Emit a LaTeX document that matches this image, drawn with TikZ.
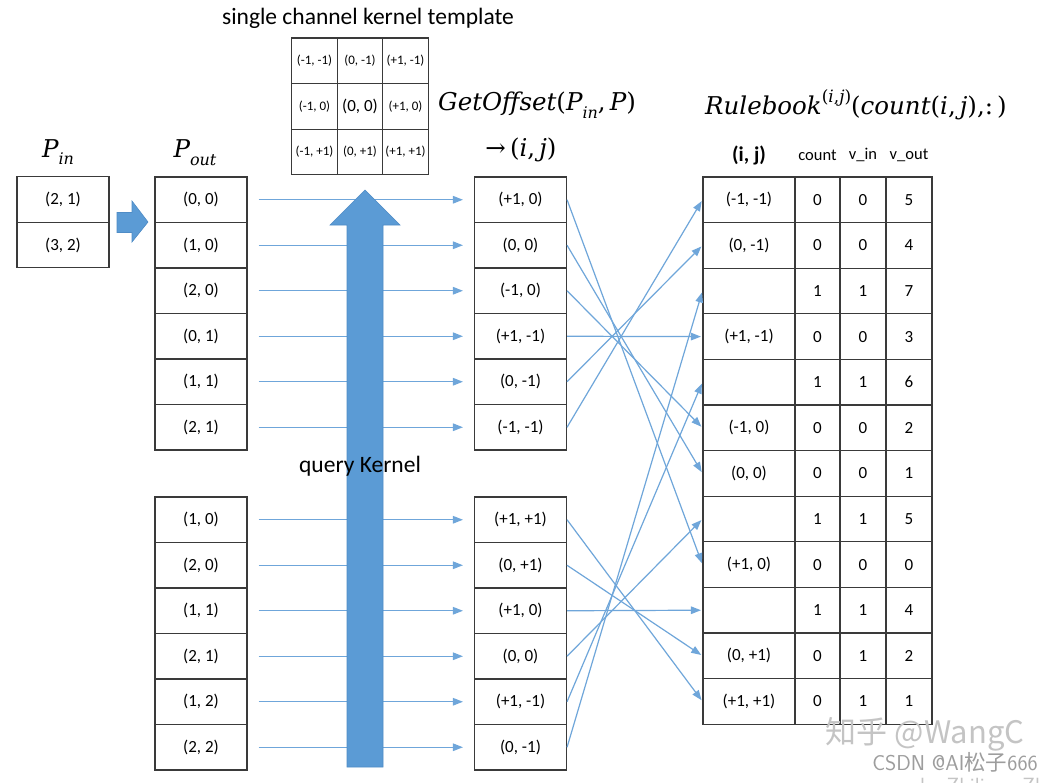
\documentclass[tikz,border=0pt]{standalone}
\usepackage{fontspec}
\setmainfont{Carlito}
\newfontfamily\cjk{Noto Sans CJK SC}
\newfontfamily\mf{DejaVu Serif}
\newcommand\mi[1]{{\mf\itshape #1}}
\newcommand\mr[1]{{\mf #1}}
\newcommand\msb[1]{\raisebox{-0.32em}{\fontsize{16}{17}\selectfont\mf\itshape #1}}
\newcommand\msp[1]{\raisebox{0.5em}{\fontsize{17}{18}\selectfont\mf #1}}
\usetikzlibrary{arrows.meta}
\definecolor{lineblue}{HTML}{6FA6DA}
\definecolor{arrowblue}{HTML}{5B9BD5}
\definecolor{arrowedge}{HTML}{4F8CC6}
\definecolor{boxgray}{HTML}{3A3A3A}
\definecolor{wmgray}{HTML}{C4C4C4}
\begin{document}
\begin{tikzpicture}[x=1pt,y=-1pt,
  cell/.style={draw=boxgray,line width=1.1pt,minimum width=#1,minimum height=45.5pt,inner sep=0pt,font=\fontsize{17}{19}\selectfont},
  cell/.default=92pt,
  kcell/.style={draw=boxgray,line width=1.1pt,minimum width=45.3pt,minimum height=45.6pt,inner sep=0pt,font=\fontsize{13}{15}\selectfont},
  rcell/.style={draw=boxgray,line width=1.1pt,minimum width=#1,minimum height=45.6pt,inner sep=0pt,font=\fontsize{17}{19}\selectfont},
  conn/.style={draw=lineblue,line width=1.2pt,-{Triangle[length=10pt,width=7.5pt]}},
  mathlbl/.style={font=\fontsize{24.5}{26}\selectfont,inner sep=0pt},
  hdr/.style={font=\fontsize{16.5}{18}\selectfont,inner sep=0pt},
  bigarrow/.style={fill=arrowblue,draw=arrowedge,line width=0.6pt}
]
\clip (0,0) rectangle (1052,782);
\fill[white] (0,0) rectangle (1052,782);

% title
\node[font=\fontsize{23.5}{25}\selectfont,inner sep=0pt] (title) at (368,18) {single channel kernel template};

% kernel template
\foreach \a/\b/\c [count=\i] in {{(-1, -1)}/{(0, -1)}/{(+1, -1)},{(-1, 0)}/{\fontsize{17}{18}\selectfont(0, 0)}/{(+1, 0)},{(-1, +1)}/{(0, +1)}/{(+1, +1)}}{
  \node[kcell] (k\i a) at (314.5,{38+45.6*(\i-0.5)}) {\a};
  \node[kcell] (k\i b) at (360,{38+45.6*(\i-0.5)}) {\b};
  \node[kcell] (k\i c) at (405.5,{38+45.6*(\i-0.5)}) {\c};
}

% P_in
\node[mathlbl] (pinlbl) at (58,152) {\mi{P}\msb{in}};
\node[cell] (pin1) at (63,199.5) {(2, 1)};
\node[cell] (pin2) at (63,245) {(3, 2)};

% blue right arrow
\draw[bigarrow] (117,212.5) -- (132,212.5) -- (132,201) -- (148,222) -- (132,242) -- (132,232.5) -- (117,232.5) -- cycle;

% P_out
\node[mathlbl] (poutlbl) at (195,153) {\mi{P}\msb{out}};
\foreach \t [count=\i] in {{(0, 0)},{(1, 0)},{(2, 0)},{(0, 1)},{(1, 1)},{(2, 1)}}{
  \node[cell] (pa\i) at (201,{177+45.5*(\i-0.5)}) {\t};
}
\foreach \t [count=\i] in {{(1, 0)},{(2, 0)},{(1, 1)},{(2, 1)},{(1, 2)},{(2, 2)}}{
  \node[cell] (pb\i) at (201,{497+45.5*(\i-0.5)}) {\t};
}

% offsets
\node[mathlbl,anchor=west] (golbl) at (438,105) {\mi{GetOffset}\mr{(}\mi{P}\msb{in}\mr{,}\,\mi{P}\mr{)}};
\node[mathlbl] (ijlbl) at (521,150) {\mr{→\,(}\mi{i}\mr{,}\,\mi{j}\mr{)}};
\foreach \t [count=\i] in {{(+1, 0)},{(0, 0)},{(-1, 0)},{(+1, -1)},{(0, -1)},{(-1, -1)}}{
  \node[cell] (oa\i) at (520.5,{177+45.5*(\i-0.5)}) {\t};
}
\foreach \t [count=\i] in {{(+1, +1)},{(0, +1)},{(+1, 0)},{(0, 0)},{(+1, -1)},{(0, -1)}}{
  \node[cell] (ob\i) at (520.5,{497+45.5*(\i-0.5)}) {\t};
}

% horizontal arrows
\foreach \i in {1,...,6}{
  \draw[conn,shorten <=11pt,shorten >=11pt] (pa\i.east) -- (oa\i.west);
  \draw[conn,shorten <=11pt,shorten >=11pt] (pb\i.east) -- (ob\i.west);
}

% big up arrow
\draw[bigarrow] (347,767) -- (347,225) -- (330,225) -- (365,190) -- (400,225) -- (383,225) -- (383,767) -- cycle;
\node[font=\fontsize{23.5}{25}\selectfont,inner sep=0pt] (qk) at (360,466) {query Kernel};

% rulebook
\node[mathlbl,anchor=west] (rblbl) at (705,105) {\mi{Rulebook}\msp{(\textit{i},\textit{j})}\mr{(}\mi{count}\mr{(}\mi{i}\mr{,}\,\mi{j}\mr{),:\,)}};
\node[font=\fontsize{21}{23}\selectfont\bfseries,inner sep=0pt] (hij) at (749,155) {(i, j)};
\node[hdr] (hcount) at (817.5,155) {count};
\node[hdr] (hvin) at (863,155) {v\_in};
\node[hdr] (hvout) at (909,155) {v\_out};
\foreach \a/\b/\c/\d [count=\i] in {{(-1, -1)}/0/0/5,{(0, -1)}/0/0/4,{}/1/1/7,{(+1, -1)}/0/0/3,{}/1/1/6,{(-1, 0)}/0/0/2,{(0, 0)}/0/0/1,{}/1/1/5,{(+1, 0)}/0/0/0,{}/1/1/4,{(0, +1)}/0/1/2,{(+1, +1)}/0/1/1}{
  \node[rcell=92pt] (r\i) at (749,{177+45.6*(\i-0.5)}) {\a};
  \node[rcell=45pt] (rc\i) at (817.5,{177+45.6*(\i-0.5)}) {\b};
  \node[rcell=46pt] (ri\i) at (863,{177+45.6*(\i-0.5)}) {\c};
  \node[rcell=46pt] (ro\i) at (909,{177+45.6*(\i-0.5)}) {\d};
}

% cross connectors
\foreach \s/\t in {1/9,2/7,3/6,4/4,5/2,6/1}{
  \draw[conn,shorten >=1.5pt] (oa\s.east) -- (r\t.west);
}
\foreach \s/\t in {1/12,2/11,3/10,4/8,5/5,6/3}{
  \draw[conn,shorten >=1.5pt] (ob\s.east) -- (r\t.west);
}

% watermarks
\node[text=wmgray,font=\cjk\fontsize{31}{33}\selectfont,inner sep=0pt] (wm1) at (925,734) {知乎 @WangC};
\node[text=wmgray!80!black,font=\fontsize{21.5}{23}\selectfont\sffamily,inner sep=0pt] (wm2) at (955,762) {CSDN @AI{\cjk 松子}666};
\node[text=wmgray,font=\fontsize{22}{24}\selectfont\sffamily,inner sep=0pt,anchor=west] (wm3) at (920,788) {by Zhiliang Zh};
\end{tikzpicture}
\end{document}
